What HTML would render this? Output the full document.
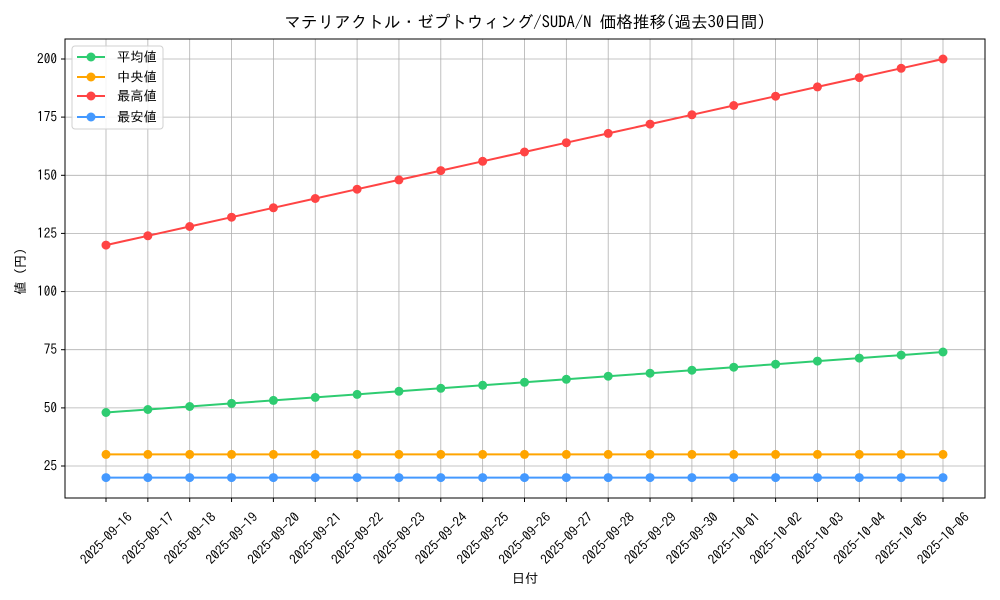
<!DOCTYPE html>
<html><head><meta charset="utf-8"><style>body{margin:0;background:#fff}svg{display:block}text{font-family:"IPAGothic","Noto Sans CJK JP",sans-serif;fill:#000}</style></head><body>
<svg width="1000" height="600" viewBox="0 0 1000 600">
<defs>
<marker id="mg" viewBox="0 0 10 10" refX="5" refY="5" markerWidth="10" markerHeight="10" markerUnits="userSpaceOnUse"><circle cx="5" cy="5" r="4.5" fill="#2ecc71"/></marker>
<marker id="mo" viewBox="0 0 10 10" refX="5" refY="5" markerWidth="10" markerHeight="10" markerUnits="userSpaceOnUse"><circle cx="5" cy="5" r="4.5" fill="#ffa500"/></marker>
<marker id="mr" viewBox="0 0 10 10" refX="5" refY="5" markerWidth="10" markerHeight="10" markerUnits="userSpaceOnUse"><circle cx="5" cy="5" r="4.5" fill="#ff4444"/></marker>
<marker id="mb" viewBox="0 0 10 10" refX="5" refY="5" markerWidth="10" markerHeight="10" markerUnits="userSpaceOnUse"><circle cx="5" cy="5" r="4.5" fill="#4499ff"/></marker>
</defs>
<text x="525" y="28" font-size="16.6" text-anchor="middle">マテリアクトル・ゼプトウィング/SUDA/N 価格推移(過去30日間)</text>
<g stroke="#b0b0b0" stroke-width="0.8">
<line x1="106" y1="39" x2="106" y2="498"/><line x1="147.85" y1="39" x2="147.85" y2="498"/><line x1="189.7" y1="39" x2="189.7" y2="498"/><line x1="231.55" y1="39" x2="231.55" y2="498"/><line x1="273.4" y1="39" x2="273.4" y2="498"/><line x1="315.25" y1="39" x2="315.25" y2="498"/><line x1="357.1" y1="39" x2="357.1" y2="498"/><line x1="398.95" y1="39" x2="398.95" y2="498"/><line x1="440.8" y1="39" x2="440.8" y2="498"/><line x1="482.65" y1="39" x2="482.65" y2="498"/><line x1="524.5" y1="39" x2="524.5" y2="498"/><line x1="566.35" y1="39" x2="566.35" y2="498"/><line x1="608.2" y1="39" x2="608.2" y2="498"/><line x1="650.05" y1="39" x2="650.05" y2="498"/><line x1="691.9" y1="39" x2="691.9" y2="498"/><line x1="733.75" y1="39" x2="733.75" y2="498"/><line x1="775.6" y1="39" x2="775.6" y2="498"/><line x1="817.45" y1="39" x2="817.45" y2="498"/><line x1="859.3" y1="39" x2="859.3" y2="498"/><line x1="901.15" y1="39" x2="901.15" y2="498"/><line x1="943" y1="39" x2="943" y2="498"/>
<line x1="65" y1="466" x2="985" y2="466"/><line x1="65" y1="407.9" x2="985" y2="407.9"/><line x1="65" y1="349.7" x2="985" y2="349.7"/><line x1="65" y1="291.6" x2="985" y2="291.6"/><line x1="65" y1="233.4" x2="985" y2="233.4"/><line x1="65" y1="175.3" x2="985" y2="175.3"/><line x1="65" y1="117.1" x2="985" y2="117.1"/><line x1="65" y1="59" x2="985" y2="59"/>
</g>
<g fill="none" stroke-width="2">
<polyline stroke="#2ecc71" marker-start="url(#mg)" marker-mid="url(#mg)" marker-end="url(#mg)" points="106,412.5 147.85,409.5 189.7,406.5 231.55,403.4 273.4,400.4 315.25,397.4 357.1,394.4 398.95,391.3 440.8,388.3 482.65,385.3 524.5,382.3 566.35,379.3 608.2,376.2 650.05,373.2 691.9,370.2 733.75,367.2 775.6,364.2 817.45,361.1 859.3,358.1 901.15,355.1 943,352"/>
<polyline stroke="#ffa500" marker-start="url(#mo)" marker-mid="url(#mo)" marker-end="url(#mo)" points="106,454.4 147.85,454.4 189.7,454.4 231.55,454.4 273.4,454.4 315.25,454.4 357.1,454.4 398.95,454.4 440.8,454.4 482.65,454.4 524.5,454.4 566.35,454.4 608.2,454.4 650.05,454.4 691.9,454.4 733.75,454.4 775.6,454.4 817.45,454.4 859.3,454.4 901.15,454.4 943,454.4"/>
<polyline stroke="#ff4444" marker-start="url(#mr)" marker-mid="url(#mr)" marker-end="url(#mr)" points="106,245.1 147.85,235.8 189.7,226.5 231.55,217.2 273.4,207.8 315.25,198.5 357.1,189.2 398.95,179.9 440.8,170.6 482.65,161.3 524.5,152 566.35,142.7 608.2,133.4 650.05,124.1 691.9,114.8 733.75,105.5 775.6,96.2 817.45,86.9 859.3,77.6 901.15,68.3 943,59"/>
<polyline stroke="#4499ff" marker-start="url(#mb)" marker-mid="url(#mb)" marker-end="url(#mb)" points="106,477.6 147.85,477.6 189.7,477.6 231.55,477.6 273.4,477.6 315.25,477.6 357.1,477.6 398.95,477.6 440.8,477.6 482.65,477.6 524.5,477.6 566.35,477.6 608.2,477.6 650.05,477.6 691.9,477.6 733.75,477.6 775.6,477.6 817.45,477.6 859.3,477.6 901.15,477.6 943,477.6"/>
</g>
<rect x="65" y="39" width="920" height="459" fill="none" stroke="#000" stroke-width="1"/>
<g stroke="#000" stroke-width="1">
<line x1="61" y1="466" x2="65" y2="466"/><line x1="61" y1="407.9" x2="65" y2="407.9"/><line x1="61" y1="349.7" x2="65" y2="349.7"/><line x1="61" y1="291.6" x2="65" y2="291.6"/><line x1="61" y1="233.4" x2="65" y2="233.4"/><line x1="61" y1="175.3" x2="65" y2="175.3"/><line x1="61" y1="117.1" x2="65" y2="117.1"/><line x1="61" y1="59" x2="65" y2="59"/>
</g>
<g font-size="13.3" text-anchor="end">
<text x="57" y="470.5">25</text><text x="57" y="412.4">50</text><text x="57" y="354.2">75</text><text x="57" y="296.1">100</text><text x="57" y="237.9">125</text><text x="57" y="179.8">150</text><text x="57" y="121.6">175</text><text x="57" y="63.5">200</text>
</g>
<g font-size="13.3" text-anchor="middle" dominant-baseline="central">
<text transform="translate(106,538) rotate(-45)">2025-09-16</text><text transform="translate(147.85,538) rotate(-45)">2025-09-17</text><text transform="translate(189.7,538) rotate(-45)">2025-09-18</text><text transform="translate(231.55,538) rotate(-45)">2025-09-19</text><text transform="translate(273.4,538) rotate(-45)">2025-09-20</text><text transform="translate(315.25,538) rotate(-45)">2025-09-21</text><text transform="translate(357.1,538) rotate(-45)">2025-09-22</text><text transform="translate(398.95,538) rotate(-45)">2025-09-23</text><text transform="translate(440.8,538) rotate(-45)">2025-09-24</text><text transform="translate(482.65,538) rotate(-45)">2025-09-25</text><text transform="translate(524.5,538) rotate(-45)">2025-09-26</text><text transform="translate(566.35,538) rotate(-45)">2025-09-27</text><text transform="translate(608.2,538) rotate(-45)">2025-09-28</text><text transform="translate(650.05,538) rotate(-45)">2025-09-29</text><text transform="translate(691.9,538) rotate(-45)">2025-09-30</text><text transform="translate(733.75,538) rotate(-45)">2025-10-01</text><text transform="translate(775.6,538) rotate(-45)">2025-10-02</text><text transform="translate(817.45,538) rotate(-45)">2025-10-03</text><text transform="translate(859.3,538) rotate(-45)">2025-10-04</text><text transform="translate(901.15,538) rotate(-45)">2025-10-05</text><text transform="translate(943,538) rotate(-45)">2025-10-06</text>
</g>
<g stroke="#000" stroke-width="1">
<line x1="106" y1="498" x2="106" y2="502"/><line x1="147.85" y1="498" x2="147.85" y2="502"/><line x1="189.7" y1="498" x2="189.7" y2="502"/><line x1="231.55" y1="498" x2="231.55" y2="502"/><line x1="273.4" y1="498" x2="273.4" y2="502"/><line x1="315.25" y1="498" x2="315.25" y2="502"/><line x1="357.1" y1="498" x2="357.1" y2="502"/><line x1="398.95" y1="498" x2="398.95" y2="502"/><line x1="440.8" y1="498" x2="440.8" y2="502"/><line x1="482.65" y1="498" x2="482.65" y2="502"/><line x1="524.5" y1="498" x2="524.5" y2="502"/><line x1="566.35" y1="498" x2="566.35" y2="502"/><line x1="608.2" y1="498" x2="608.2" y2="502"/><line x1="650.05" y1="498" x2="650.05" y2="502"/><line x1="691.9" y1="498" x2="691.9" y2="502"/><line x1="733.75" y1="498" x2="733.75" y2="502"/><line x1="775.6" y1="498" x2="775.6" y2="502"/><line x1="817.45" y1="498" x2="817.45" y2="502"/><line x1="859.3" y1="498" x2="859.3" y2="502"/><line x1="901.15" y1="498" x2="901.15" y2="502"/><line x1="943" y1="498" x2="943" y2="502"/>
</g>
<text x="525" y="583" font-size="13.3" text-anchor="middle">日付</text>
<text transform="translate(25,268) rotate(-90)" font-size="13.3" text-anchor="middle">値（円）</text>
<rect x="72" y="46" width="91" height="83" rx="3" fill="#fff" fill-opacity="0.85" stroke="#d0d0d0"/>
<g stroke-width="2">
<line x1="77" y1="57" x2="105" y2="57" stroke="#2ecc71"/><circle cx="91" cy="57" r="4.5" fill="#2ecc71"/>
<line x1="77" y1="77" x2="105" y2="77" stroke="#ffa500"/><circle cx="91" cy="77" r="4.5" fill="#ffa500"/>
<line x1="77" y1="96" x2="105" y2="96" stroke="#ff4444"/><circle cx="91" cy="96" r="4.5" fill="#ff4444"/>
<line x1="77" y1="117" x2="105" y2="117" stroke="#4499ff"/><circle cx="91" cy="117" r="4.5" fill="#4499ff"/>
</g>
<g font-size="13.3">
<text x="117" y="61.5">平均値</text><text x="117" y="81.5">中央値</text><text x="117" y="100.5">最高値</text><text x="117" y="121.5">最安値</text>
</g>
</svg>
</body></html>
